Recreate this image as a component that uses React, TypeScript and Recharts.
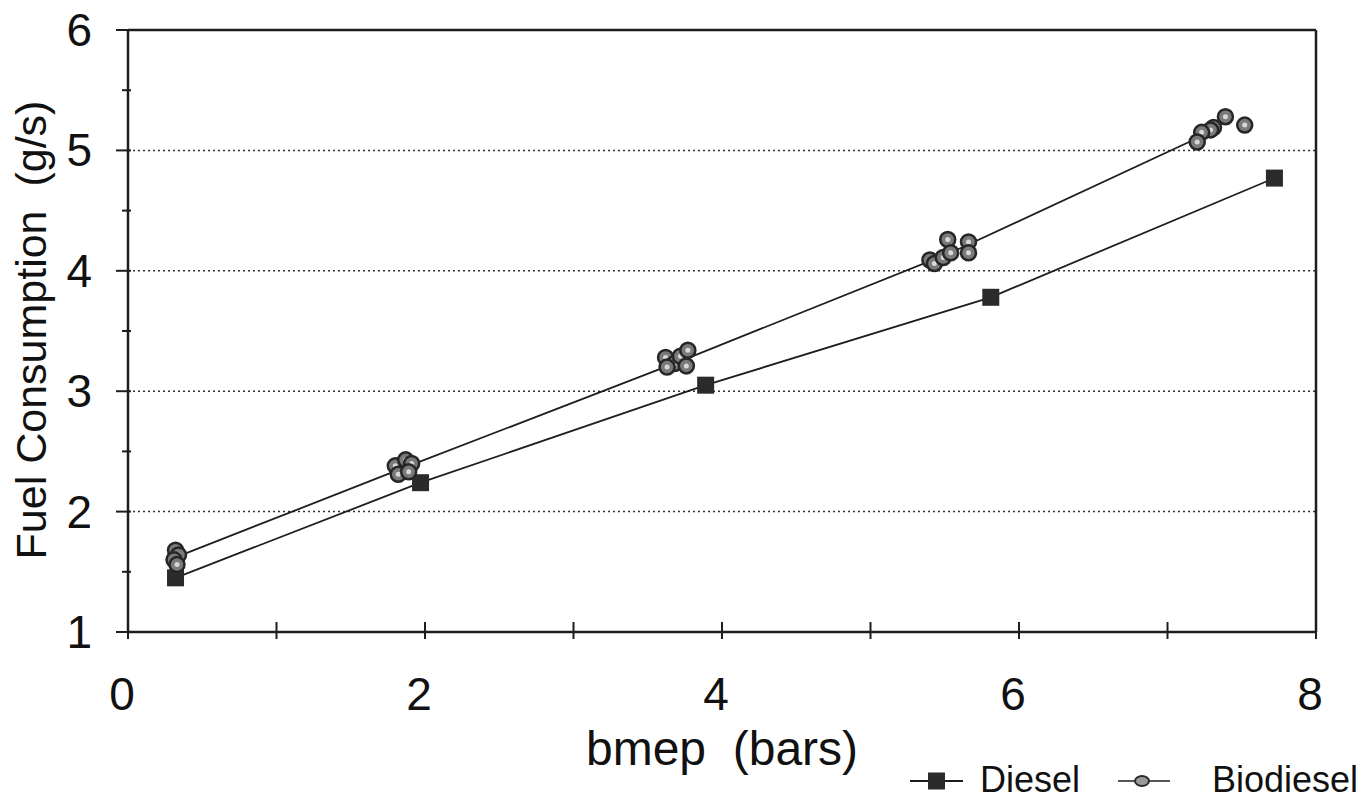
import React from 'react';
import { ComposedChart, Line, Scatter, XAxis, YAxis, ReferenceLine } from 'recharts';

// Diesel: mean fuel consumption per load point
const dieselX = [0.32, 1.97, 3.89, 5.81, 7.72];
const dieselY = [1.45, 2.24, 3.05, 3.78, 4.77];

// Biodiesel: fitted line points
const bioLineX = [0.32, 1.83, 3.72, 5.54, 7.25];
const bioLineY = [1.62, 2.35, 3.25, 4.15, 5.13];

// Biodiesel: individual measurements (scatter)
const bioPtsX = [
  0.32, 0.34, 0.31, 0.33,
  1.80, 1.87, 1.91, 1.82, 1.89,
  3.62, 3.68, 3.63, 3.72, 3.77, 3.76,
  5.52, 5.66, 5.66, 5.40, 5.43, 5.49, 5.54,
  7.39, 7.31, 7.29, 7.23, 7.20, 7.52,
];
const bioPtsY = [
  1.68, 1.64, 1.60, 1.56,
  2.38, 2.43, 2.40, 2.31, 2.33,
  3.28, 3.23, 3.20, 3.29, 3.34, 3.21,
  4.26, 4.24, 4.15, 4.09, 4.06, 4.11, 4.15,
  5.28, 5.19, 5.17, 5.15, 5.07, 5.21,
];

const xTicks = [0, 1, 2, 3, 4, 5, 6, 7, 8];
const xLabelTicks = [0, 2, 4, 6, 8];
const yTicks = [1, 1.5, 2, 2.5, 3, 3.5, 4, 4.5, 5, 5.5, 6];
const gridLines = [2, 3, 4, 5];

const FONT = '"Liberation Sans", Arial, sans-serif';
const INK = '#1e1e1e';

const dieselData = dieselX.map((x, i) => ({ x, y: dieselY[i] }));
const bioLineData = bioLineX.map((x, i) => ({ x, y: bioLineY[i] }));
const bioPts = bioPtsX.map((x, i) => ({ x, y: bioPtsY[i] }));

const YTick = (p: any) => {
  const { x, y, payload } = p;
  const major = Number.isInteger(payload.value);
  return (
    <g>
      <line x1={x - (major ? 12 : 6)} x2={x + 3} y1={y} y2={y} stroke={INK} strokeWidth={2} />
      {major && (
        <text x={x - 36} y={y} dy={16} textAnchor="end" fontSize={46} fontFamily={FONT} fill="#111">
          {payload.value}
        </text>
      )}
    </g>
  );
};

const XTick = (p: any) => {
  const { x, y, payload } = p;
  const show = xLabelTicks.includes(payload.value);
  return (
    <g>
      <line x1={x} x2={x} y1={y - 10} y2={y + 7} stroke={INK} strokeWidth={2} />
      {show && (
        <text x={x - 6} y={y + 78} textAnchor="middle" fontSize={46} fontFamily={FONT} fill="#111">
          {payload.value}
        </text>
      )}
    </g>
  );
};

const DieselDot = (p: any) => {
  const { cx, cy, index } = p;
  return <rect key={'d' + index} x={cx - 8.5} y={cy - 8.5} width={17} height={17} fill="#2b2b2b" />;
};

const BioDot = (p: any) => {
  const { cx, cy } = p;
  return (
    <g>
      <circle cx={cx} cy={cy} r={7.5} fill="#7a7a7a" stroke="#262626" strokeWidth={2.5} />
      <circle cx={cx} cy={cy} r={2.5} fill="#d8d8d8" />
    </g>
  );
};

export default function App() {
  return (
    <div style={{ position: 'absolute', left: 0, top: 0, width: 1364, height: 802, background: '#fff' }}>
      <ComposedChart
        width={1364}
        height={802}
        margin={{ top: 30, right: 48, bottom: 0, left: 0 }}
      >
        <XAxis
          type="number"
          dataKey="x"
          domain={[0, 8]}
          ticks={xTicks}
          interval={0}
          tickSize={0}
          tickMargin={0}
          tickLine={false}
          height={170}
          axisLine={{ stroke: INK, strokeWidth: 2.5 }}
          tick={<XTick />}
          allowDuplicatedCategory={false}
          label={{
            content: () => (
              <text x={722} y={765} textAnchor="middle" fontSize={48} fontFamily={FONT} fill="#111" style={{ whiteSpace: 'pre' }}>
                bmep  (bars)
              </text>
            ),
          }}
        />
        <YAxis
          type="number"
          dataKey="y"
          domain={[1, 6]}
          ticks={yTicks}
          interval={0}
          width={128}
          tickSize={0}
          tickMargin={0}
          tickLine={false}
          axisLine={{ stroke: INK, strokeWidth: 2.5 }}
          tick={<YTick />}
          label={{
            content: () => (
              <text
                x={46}
                y={330}
                transform="rotate(-90 46 330)"
                textAnchor="middle"
                fontSize={43}
                fontFamily={FONT}
                fill="#111"
                style={{ whiteSpace: 'pre' }}
              >
                Fuel Consumption  (g/s)
              </text>
            ),
          }}
        />
        {gridLines.map((g) => (
          <ReferenceLine key={g} y={g} stroke="#333" strokeWidth={1.5} strokeDasharray="2 3" />
        ))}
        <ReferenceLine y={6} stroke={INK} strokeWidth={2.5} />
        <ReferenceLine x={8} stroke={INK} strokeWidth={2.5} />
        <Line
          data={bioLineData}
          dataKey="y"
          type="linear"
          stroke={INK}
          strokeWidth={1.8}
          dot={false}
          activeDot={false}
          isAnimationActive={false}
        />
        <Line
          data={dieselData}
          dataKey="y"
          type="linear"
          stroke={INK}
          strokeWidth={1.8}
          dot={<DieselDot />}
          activeDot={false}
          isAnimationActive={false}
        />
        <Scatter data={bioPts} dataKey="y" shape={<BioDot />} isAnimationActive={false} />
      </ComposedChart>
      <svg
        width={1364}
        height={802}
        style={{ position: 'absolute', left: 0, top: 0, pointerEvents: 'none' }}
      >
        <line x1={910} x2={963} y1={781} y2={781} stroke={INK} strokeWidth={2} />
        <rect x={928} y={772.5} width={17} height={17} fill="#2b2b2b" />
        <text x={980} y={792} fontSize={36} fontFamily={FONT} fill="#111">Diesel</text>
        <line x1={1118} x2={1170} y1={781} y2={781} stroke={INK} strokeWidth={1.6} />
        <ellipse cx={1142} cy={781} rx={7} ry={5} fill="#9a9a9a" stroke="#2a2a2a" strokeWidth={2} />
        <text x={1212} y={792} fontSize={36} fontFamily={FONT} fill="#111">Biodiesel</text>
      </svg>
    </div>
  );
}
